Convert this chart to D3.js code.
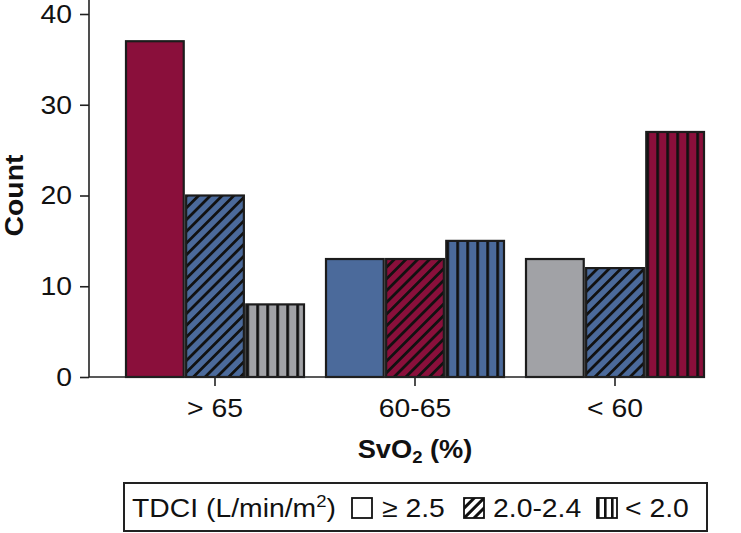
<!DOCTYPE html>
<html>
<head>
<meta charset="utf-8">
<script src="https://cdn.jsdelivr.net/npm/d3@7"></script>
<style>
  html, body { margin: 0; padding: 0; background: #fff; }
  svg { display: block; }
  text { font-family: "Liberation Sans", Arial, Helvetica, sans-serif; fill: #111; }
</style>
</head>
<body>
<svg id="chart" width="741" height="533"></svg>
<script>
// ---- data ----
const categories = ["> 65", "60-65", "< 60"];
const series = ["\u2265 2.5", "2.0-2.4", "< 2.0"];        // TDCI groups (solid, hatched, striped)
const counts = [
  [37, 20, 8],    // > 65
  [13, 13, 15],   // 60-65
  [13, 12, 27]    // < 60
];
const yTicks = [0, 10, 20, 30, 40];
const legendTitle = "TDCI (L/min/m";
const xTitle = "SvO";
const yTitle = "Count";

// ---- styles ----
const palette = { crimson: "#8a0f3b", blue: "#4b6a9b", gray: "#a1a2a6" };
const barColorKey = [
  ["crimson", "blue", "gray"],
  ["blue", "crimson", "blue"],
  ["gray", "blue", "crimson"]
];
const patternKind = ["solid", "hatch", "vstripe"];
const FS = 26;        // base font size
const SX = 1.09;      // horizontal stretch to match the reference typeface width

const svg = d3.select("#chart");
const defs = svg.append("defs");

const x0 = d3.scaleBand().domain(categories).range([115, 715]).padding(0);
const x1 = d3.scaleBand().domain(series).range([11, 189]).paddingInner(0.04).paddingOuter(0);
const y = d3.scaleLinear().domain([0, 40]).range([377, 14]);

const axisLeftX = 89;
const axisRightX = 704;

function makePattern(id, kind, color, bx) {
  if (kind === "hatch") {
    const p = defs.append("pattern").attr("id", id)
      .attr("patternUnits", "userSpaceOnUse")
      .attr("width", 8.3).attr("height", 8.3)
      .attr("x", bx)
      .attr("patternTransform", "rotate(45)");
    p.append("rect").attr("width", 8.3).attr("height", 8.3).attr("fill", color);
    p.append("rect").attr("x", 0).attr("width", 2.8).attr("height", 8.3).attr("fill", "#111");
  } else if (kind === "vstripe") {
    const p = defs.append("pattern").attr("id", id)
      .attr("patternUnits", "userSpaceOnUse")
      .attr("width", 10).attr("height", 10)
      .attr("x", bx);
    p.append("rect").attr("width", 10).attr("height", 10).attr("fill", color);
    p.append("rect").attr("x", 0).attr("width", 2.8).attr("height", 10).attr("fill", "#111");
  }
}

// ---- bars ----
const barData = [];
categories.forEach((c, i) => {
  series.forEach((s, j) => {
    barData.push({ c, s, i, j, v: counts[i][j] });
  });
});

const bars = svg.append("g");
barData.forEach(d => {
  const bx = x0(d.c) + x1(d.s);
  const color = palette[barColorKey[d.i][d.j]];
  const kind = patternKind[d.j];
  let fill = color;
  if (kind !== "solid") {
    const id = "pat-" + d.i + "-" + d.j;
    makePattern(id, kind, color, bx);
    fill = "url(#" + id + ")";
  }
  bars.append("rect")
    .attr("x", bx)
    .attr("y", y(d.v))
    .attr("width", x1.bandwidth())
    .attr("height", y(0) - y(d.v))
    .attr("fill", fill)
    .attr("stroke", "#1c1c1c")
    .attr("stroke-width", 2.2);
});

// ---- y axis ----
const yAxis = svg.append("g")
  .attr("transform", `translate(${axisLeftX},0)`)
  .call(d3.axisLeft(y).tickValues(yTicks).tickSize(9).tickPadding(8).tickSizeOuter(0));
yAxis.select(".domain").remove();
yAxis.append("line").attr("x1", 0).attr("x2", 0).attr("y1", 0).attr("y2", y(0))
  .attr("stroke", "#222").attr("stroke-width", 1.6);
yAxis.selectAll(".tick line").attr("stroke", "#222").attr("stroke-width", 1.6);
yAxis.selectAll(".tick text")
  .attr("x", -17 / SX)
  .attr("transform", `scale(${SX},1)`)
  .attr("font-size", FS).attr("fill", "#111")
  .style("font-family", '"Liberation Sans", Arial, sans-serif');

// ---- x axis ----
const xAxis = svg.append("g")
  .attr("transform", `translate(0,${y(0)})`)
  .call(d3.axisBottom(x0).tickSize(9).tickPadding(13).tickSizeOuter(0));
xAxis.select(".domain").remove();
xAxis.append("line").attr("x1", axisLeftX).attr("x2", axisRightX).attr("y1", 0).attr("y2", 0)
  .attr("stroke", "#222").attr("stroke-width", 1.6);
xAxis.selectAll(".tick line").attr("stroke", "#222").attr("stroke-width", 1.6);
xAxis.selectAll(".tick text")
  .attr("transform", `scale(${SX},1)`)
  .attr("font-size", FS).attr("fill", "#111")
  .style("font-family", '"Liberation Sans", Arial, sans-serif');

// ---- axis titles ----
const xt = svg.append("text")
  .attr("transform", `translate(${(x0.range()[0] + x0.range()[1]) / 2},458) scale(${SX},1)`)
  .attr("text-anchor", "middle")
  .attr("font-size", 25)
  .attr("font-weight", "bold");
xt.append("tspan").text(xTitle);
xt.append("tspan").text("2").attr("font-size", 17).attr("dy", 5);
xt.append("tspan").text(" (%)").attr("dy", -5);

svg.append("text")
  .attr("transform", `translate(23,${y(20)}) rotate(-90) scale(${SX},1)`)
  .attr("text-anchor", "middle")
  .attr("font-size", 26)
  .attr("font-weight", "bold")
  .text(yTitle);

// ---- legend ----
const lg = svg.append("g");
lg.append("rect").attr("x", 124).attr("y", 483).attr("width", 583).attr("height", 48)
  .attr("fill", "#fff").attr("stroke", "#222").attr("stroke-width", 2);
const lt = lg.append("text").attr("transform", `translate(132,517) scale(${SX},1)`).attr("font-size", FS);
lt.append("tspan").text(legendTitle);
lt.append("tspan").text("2").attr("font-size", 17).attr("dy", -10);
lt.append("tspan").text(")").attr("dy", 10);

// legend swatch patterns (white background)
(function () {
  const p1 = defs.append("pattern").attr("id", "lg-hatch").attr("patternUnits", "userSpaceOnUse")
    .attr("width", 7).attr("height", 7).attr("patternTransform", "rotate(45)");
  p1.append("rect").attr("width", 7).attr("height", 7).attr("fill", "#fff");
  p1.append("rect").attr("width", 3).attr("height", 7).attr("fill", "#111");
  const p2 = defs.append("pattern").attr("id", "lg-vs").attr("patternUnits", "userSpaceOnUse")
    .attr("x", 597).attr("width", 7).attr("height", 7);
  p2.append("rect").attr("width", 7).attr("height", 7).attr("fill", "#fff");
  p2.append("rect").attr("width", 2.6).attr("height", 7).attr("fill", "#111");
})();

const legendItems = [
  { label: series[0], sx: 352, tx: 382, fill: "#fff" },
  { label: series[1], sx: 464, tx: 493, fill: "url(#lg-hatch)" },
  { label: series[2], sx: 597, tx: 625, fill: "url(#lg-vs)" }
];
legendItems.forEach(it => {
  lg.append("rect").attr("x", it.sx).attr("y", 498).attr("width", 20).attr("height", 20)
    .attr("fill", it.fill).attr("stroke", "#111").attr("stroke-width", 1.8);
  lg.append("text").attr("transform", `translate(${it.tx},517) scale(${SX},1)`)
    .attr("font-size", FS).text(it.label);
});
</script>
</body>
</html>
